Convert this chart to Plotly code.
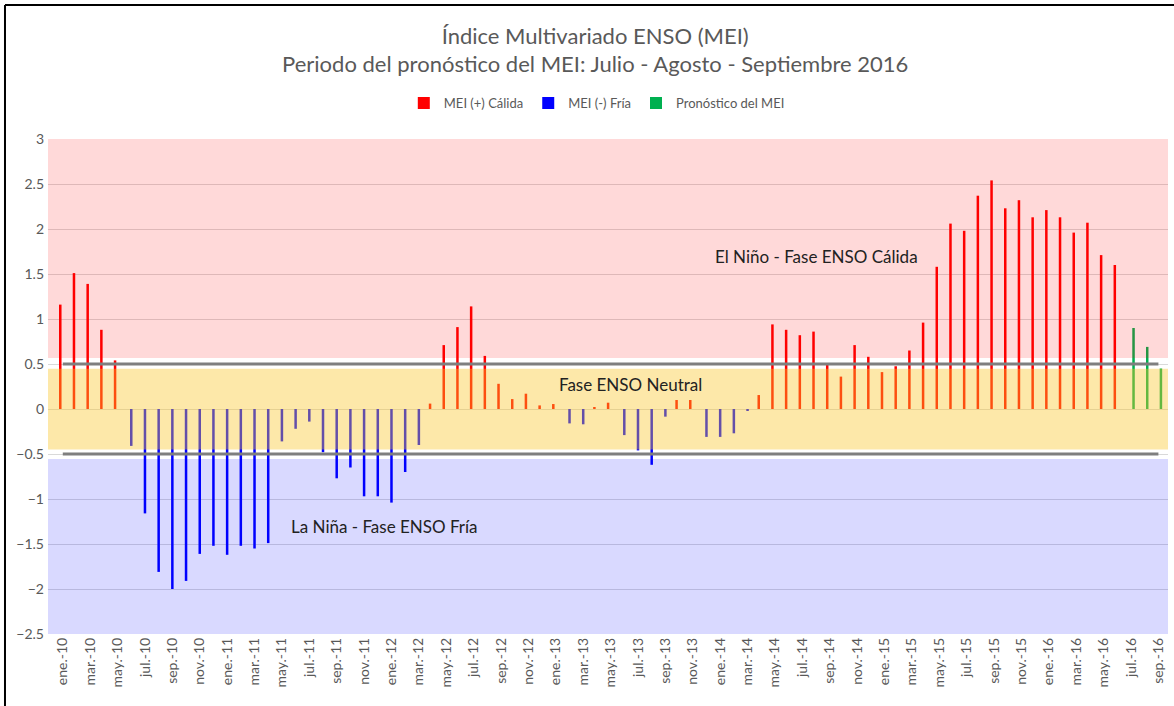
import plotly.graph_objects as go

# ---------------- data ----------------
month_abbr = ["ene.", "feb.", "mar.", "abr.", "may.", "jun.",
              "jul.", "ago.", "sep.", "oct.", "nov.", "dic."]
years = ["10", "11", "12", "13", "14", "15", "16"]
categories = [f"{m}-{y}" for y in years for m in month_abbr][:81]  # ene.-10 .. sep.-16

# Observed MEI, ene.-10 .. jun.-16
mei_observed = [
    1.16, 1.51, 1.39, 0.88, 0.54, -0.41, -1.16, -1.81, -2.00, -1.91, -1.61, -1.52,
    -1.62, -1.52, -1.55, -1.49, -0.36, -0.22, -0.14, -0.48, -0.77, -0.65, -0.97, -0.97,
    -1.04, -0.70, -0.40, 0.06, 0.71, 0.91, 1.14, 0.59, 0.28, 0.11, 0.17, 0.04,
    0.055, -0.16, -0.17, 0.015, 0.07, -0.29, -0.46, -0.62, -0.085, 0.10, 0.10, -0.31,
    -0.31, -0.27, -0.015, 0.155, 0.94, 0.88, 0.82, 0.86, 0.49, 0.36, 0.71, 0.58,
    0.41, 0.475, 0.65, 0.96, 1.58, 2.06, 1.98, 2.37, 2.54, 2.23, 2.32, 2.13,
    2.21, 2.13, 1.96, 2.07, 1.71, 1.60,
]
# Forecast MEI, jul.-16 .. sep.-16
mei_forecast = [0.90, 0.69, 0.45]

threshold_hi = 0.5
threshold_lo = -0.5

n_obs = len(mei_observed)
calida = [v if v >= 0 else None for v in mei_observed] + [None] * len(mei_forecast)
fria = [v if v < 0 else None for v in mei_observed] + [None] * len(mei_forecast)
pronostico = [None] * n_obs + mei_forecast

tick_labels = categories[::2]

# ---------------- figure ----------------
FONT = "Lato"
GREY_TXT = "#595959"

fig = go.Figure()
fig.add_trace(go.Bar(x=categories, y=calida, name="MEI (+) Cálida",
                     marker=dict(color="#FF0000", line_width=0)))
fig.add_trace(go.Bar(x=categories, y=fria, name="MEI (-) Fría",
                     marker=dict(color="#0000FF", line_width=0)))
fig.add_trace(go.Bar(x=categories, y=pronostico, name="Pronóstico del MEI",
                     marker=dict(color="#00B050", line_width=0)))

for thr in (threshold_hi, threshold_lo):
    fig.add_trace(go.Scatter(x=[categories[0], categories[-1]], y=[thr, thr],
                             mode="lines", line=dict(color="#7F7F7F", width=3),
                             showlegend=False, hoverinfo="skip"))

shapes = [
    dict(type="rect", xref="paper", yref="y", x0=0, x1=1, y0=0.566, y1=3,
         fillcolor="rgba(255,0,0,0.15)", line_width=0, layer="above"),
    dict(type="rect", xref="paper", yref="y", x0=0, x1=1, y0=-0.45, y1=0.447,
         fillcolor="rgba(250,198,40,0.40)", line_width=0, layer="above"),
    dict(type="rect", xref="paper", yref="y", x0=0, x1=1, y0=-2.5, y1=-0.555,
         fillcolor="rgba(0,0,255,0.15)", line_width=0, layer="above"),
    # outer frame (top and left)
    dict(type="line", xref="paper", yref="paper", x0=-0.0384, x1=1.01,
         y0=1.2707, y1=1.2707, line=dict(color="#000000", width=2)),
    dict(type="line", xref="paper", yref="paper", x0=-0.0384, x1=-0.0384,
         y0=1.2707, y1=-0.16, line=dict(color="#000000", width=2)),
]

annotations = [
    dict(text="El Niño - Fase ENSO Cálida", xref="paper", yref="y", x=0.686, y=1.70,
         xanchor="center", yanchor="middle",
         showarrow=False, font=dict(family=FONT, size=17, color="#222222")),
    dict(text="Fase ENSO Neutral", xref="paper", yref="y", x=0.520, y=0.27,
         xanchor="center", yanchor="middle",
         showarrow=False, font=dict(family=FONT, size=17, color="#222222")),
    dict(text="La Niña - Fase ENSO Fría", xref="paper", yref="y", x=0.300, y=-1.30,
         xanchor="center", yanchor="middle",
         showarrow=False, font=dict(family=FONT, size=17, color="#222222")),
]

fig.update_layout(
    width=1174, height=706,
    margin=dict(l=48, r=6, t=139, b=72),
    paper_bgcolor="white", plot_bgcolor="white",
    barmode="group", bargap=0.45, bargroupgap=0,
    font=dict(family=FONT, color=GREY_TXT),
    title=dict(text="Índice Multivariado ENSO (MEI)<br>Periodo del pronóstico del MEI: Julio - Agosto - Septiembre 2016",
               x=0.507, xanchor="center", y=0.938, yanchor="middle",
               font=dict(family=FONT, size=22, color=GREY_TXT)),
    legend=dict(orientation="h", x=0.49, xanchor="center", y=1.0727, yanchor="middle",
                font=dict(family=FONT, size=13, color=GREY_TXT),
                itemwidth=30, traceorder="normal"),
    shapes=shapes,
    annotations=annotations,
    showlegend=True,
)

fig.update_xaxes(type="category", range=[-1.08, 80.7],
                 tickmode="array", tickvals=tick_labels, ticktext=tick_labels,
                 tickangle=-90, tickfont=dict(family=FONT, size=14, color=GREY_TXT),
                 showgrid=False, showline=False, ticks="", ticklen=0)
fig.update_yaxes(range=[-2.5, 3], dtick=0.5, tick0=0,
                 showgrid=True, gridcolor="#D9D9D9", gridwidth=1,
                 zeroline=True, zerolinecolor="#D9D9D9", zerolinewidth=1,
                 tickfont=dict(family=FONT, size=14, color=GREY_TXT),
                 ticklabelstandoff=3,
                 ticks="", showline=False)

fig.write_html("out.html",
               config={"displayModeBar": False},
               post_script="document.body.style.margin='0';document.body.style.overflow='hidden';")
